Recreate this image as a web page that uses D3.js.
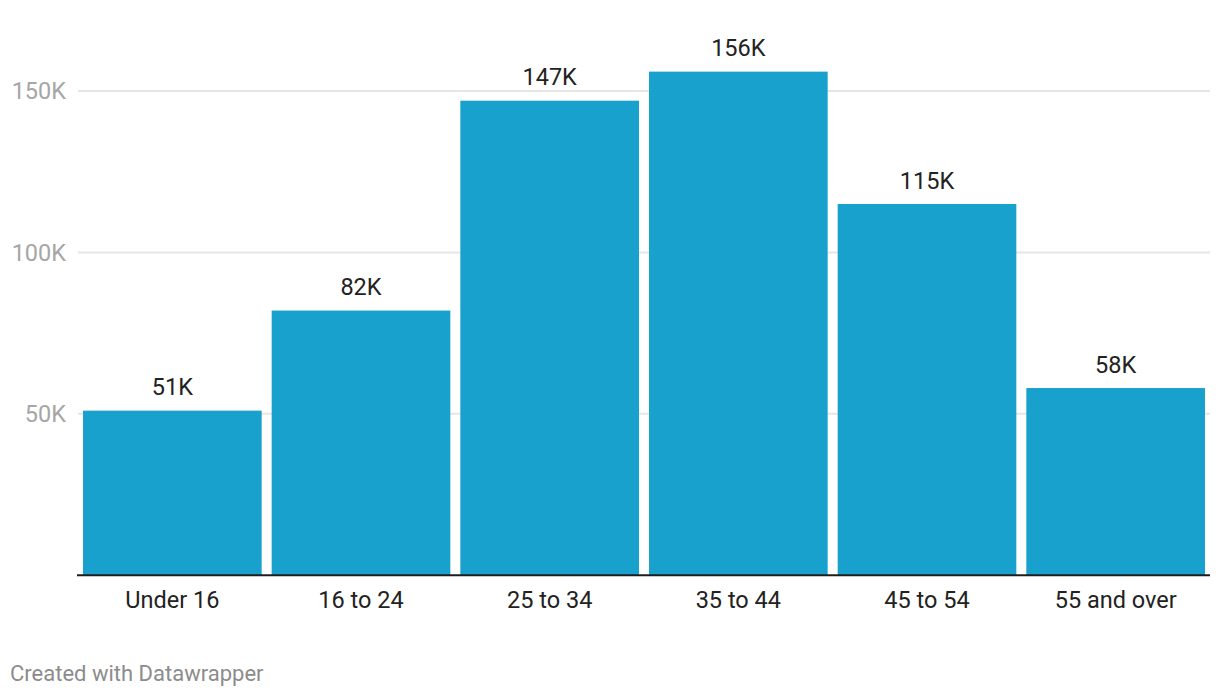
<!DOCTYPE html>
<html>
<head>
<meta charset="utf-8">
<title>Age groups</title>
<style>
  body { margin: 0; background: #fff; font-family: Roboto, "Noto Sans", sans-serif; }
  .grid line { stroke: #e6e6e6; stroke-width: 2; }
  .ytick { fill: #a6a6a6; font-size: 23.5px; }
  .xlabel { fill: #222; font-size: 23.5px; }
  .value { fill: #222; font-size: 23.5px; }
  .credit { fill: #8c8c8c; font-size: 22px; }
</style>
</head>
<body>
<div id="chart"></div>
<script src="https://cdn.jsdelivr.net/npm/d3@7"></script>
<script>
// data
var categories = ["Under 16", "16 to 24", "25 to 34", "35 to 44", "45 to 54", "55 and over"];
var values = [51000, 82000, 147000, 156000, 115000, 58000];
var tickValues = [50000, 100000, 150000];

var width = 1220,
    height = 696,
    baseline = 575.3;

var svg = d3.select('#chart').append('svg')
    .attr('width', width)
    .attr('height', height);

var x = d3.scaleBand()
    .domain(categories)
    .range([83, 1205])
    .paddingInner(0.053)
    .paddingOuter(0);

var y = d3.scaleLinear()
    .domain([0, 150000])
    .range([baseline, 91]);

// gridlines
var grid = svg.append('g').attr('class', 'grid');
grid.selectAll('line')
    .data(tickValues)
  .enter().append('line')
    .attr('x1', 78)
    .attr('x2', 1210)
    .attr('y1', d => y(d))
    .attr('y2', d => y(d));

svg.selectAll('.ytick')
    .data(tickValues)
  .enter().append('text')
    .attr('class', 'ytick')
    .attr('x', 66)
    .attr('y', d => y(d) + 8.3)
    .attr('text-anchor', 'end')
    .text(d => (d / 1000) + 'K');

// bars
svg.selectAll('.bar')
    .data(values)
  .enter().append('rect')
    .attr('class', 'bar')
    .attr('x', (d, i) => x(categories[i]))
    .attr('width', x.bandwidth())
    .attr('y', d => y(d))
    .attr('height', d => baseline - y(d))
    .attr('fill', '#18a1cd');

svg.selectAll('.value')
    .data(values)
  .enter().append('text')
    .attr('class', 'value')
    .attr('x', (d, i) => x(categories[i]) + x.bandwidth() / 2)
    .attr('y', d => y(d) - 15.5)
    .attr('text-anchor', 'middle')
    .text(d => Math.round(d / 1000) + 'K');

// baseline
svg.append('line')
    .attr('x1', 77)
    .attr('x2', 1210)
    .attr('y1', baseline)
    .attr('y2', baseline)
    .attr('stroke', '#1d1d1d')
    .attr('stroke-width', 2);

svg.selectAll('.xlabel')
    .data(categories)
  .enter().append('text')
    .attr('class', 'xlabel')
    .attr('x', d => x(d) + x.bandwidth() / 2)
    .attr('y', 608)
    .attr('text-anchor', 'middle')
    .text(d => d);

svg.append('text')
    .attr('class', 'credit')
    .attr('x', 10)
    .attr('y', 681)
    .text('Created with Datawrapper');
</script>
</body>
</html>
